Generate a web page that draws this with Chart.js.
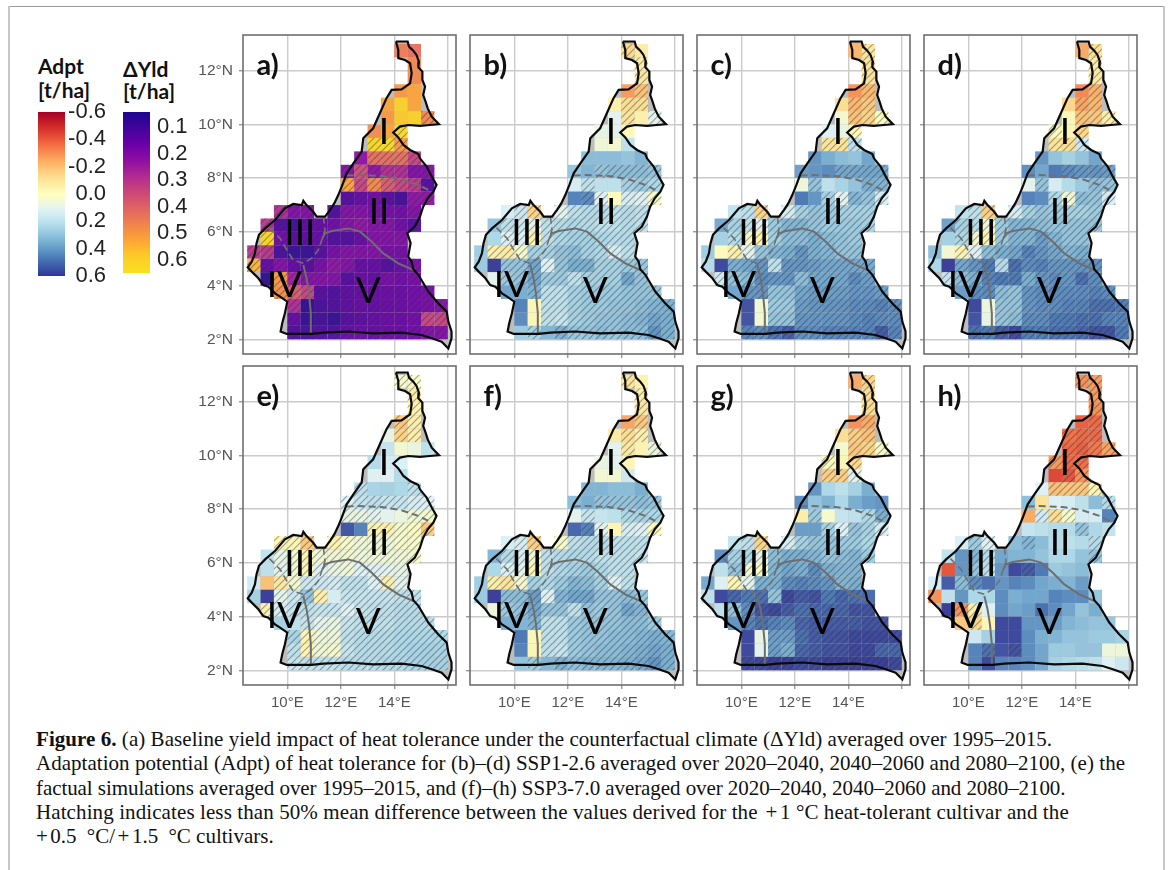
<!DOCTYPE html>
<html><head><meta charset="utf-8">
<script src="https://cdn.jsdelivr.net/npm/chart.js@4"></script>
<style>
html,body{margin:0;padding:0;background:#fff;width:1171px;height:870px;overflow:hidden}
canvas{position:absolute}
.t{position:absolute;white-space:nowrap}
.lt{font:bold 21px Lato,sans-serif;color:#111;line-height:24px}
.cap{font:21px/24px "Liberation Serif",serif;color:#111}
.p{padding:0 2.5px}
.edge{position:absolute;top:6px;bottom:0;width:2px;background:#c6c6c6}
.topedge{position:absolute;top:6px;left:8px;width:1157px;height:1px;background:#9a9a9a}
</style></head><body>
<div class="topedge"></div>
<div class="edge" style="left:8px"></div>
<div class="edge" style="left:1163px"></div>
<div class="t lt" style="left:38px;top:54px">Adpt<br>[t/ha]</div>
<div class="t lt" style="left:123px;top:58px;line-height:22px">ΔYld<br>[t/ha]</div>
<div class="t cap" style="left:36px;top:727px;letter-spacing:.05px"><b>Figure 6.</b> (a) Baseline yield impact of heat tolerance under the counterfactual climate (ΔYld) averaged over 1995–2015.</div>
<div class="t cap" style="left:36px;top:751px;letter-spacing:.03px">Adaptation potential (Adpt) of heat tolerance for (b)–(d) SSP1-2.6 averaged over 2020–2040, 2040–2060 and 2080–2100, (e) the</div>
<div class="t cap" style="left:36px;top:776px;letter-spacing:-.07px">factual simulations averaged over 1995–2015, and (f)–(h) SSP3-7.0 averaged over 2020–2040, 2040–2060 and 2080–2100.</div>
<div class="t cap" style="left:36px;top:800px;letter-spacing:.1px">Hatching indicates less than 50% mean difference between the values derived for the <span class="p">+</span>1 °C heat-tolerant cultivar and the</div>
<div class="t cap" style="left:36px;top:824px"><span class="p" style="padding-left:0">+</span>0.5<span class="p"> </span>°C/<span class="p">+</span>1.5<span class="p"> </span>°C cultivars.</div>
<script>
// ---- axes ----
const lonTicks=[10,12,14,16];
const lonLabels={10:'10°E',12:'12°E',14:'14°E'};
const latTicks=[2,4,6,8,10,12];
const adptTicks=[-0.6,-0.4,-0.2,0,0.2,0.4,0.6];
const yldTicks=[0.1,0.2,0.3,0.4,0.5,0.6];
const panelLetters=['a)','b)','c)','d)','e)','f)','g)','h)'];
// ---- grid: first column of each 0.5° row (north to south) ----
const rowStart=[11,12,12,11,10,10,9,9,8,7,7,7,2,1,1,0,0,1,2,3,3,3];
// ---- panel values, t/ha ----
const yldA=[[.45,.42],[.47],[.47],[.5,.52],[.52,.6,.52],[.5,.58,.6,.47],[.48,.52,.62],[.62,.63,.5],
[.22,.42,.42,.42,.33],[.2,.35,.22,.28,.28,.2,.2],[.52,.33,.47,.38,.33,.3,.13],[.13,.15,.17,.13,.1,.22,.22],
[.28,.2,.2,null,.12,.2,.2,.18,.18,.17,.2],[.3,.12,.1,.14,.15,.17,.2,.22,.2,.2,.17,.13],
[.62,.17,.13,.14,.15,.12,.12,.15,.2,.2,.2],[.3,.3,.11,.08,.08,.13,.18,.2,.2,.2,.18,.18],
[.55,.15,.2,.15,.13,.18,.22,.2,.15,.15,.12,.15,.18],[.07,.5,.25,.2,.2,.2,.13,.16,.15,.18,.17,.18],
[.48,.38,.33,.13,.12,.14,.15,.16,.16,.16,.17,.18],[.28,.07,.11,.12,.14,.15,.15,.16,.16,.17,.18,.2],
[.15,.07,.1,.08,.13,.14,.15,.16,.16,.17,.33,.33],[.12,.11,.12,.12,.15,.16,.15,.16,.16,.17,.2,.2]];
const adptB=[[-.13,-.08],[-.05],[-.08],[-.28,-.2],[-.05,-.12,-.12],[.1,-.1,-.05,.1],[.08,.1,-.03],[.05,.04,.2],
[.32,.32,.32,.3,.34],[.3,.34,.3,.32,.32,.32,.3],[.14,.2,.2,.2,.26,.28,.24],[.46,.44,.12,0,.14,.12,.02],
[.14,.16,-.15,null,.1,.2,.22,.22,.2,.22,.2],[.3,.2,.16,.08,.2,.22,.24,.22,.2,.2,.22,.2],
[.24,.12,.12,-.03,.2,.24,.26,.26,.24,.22,.22],[.28,-.05,-.07,.03,.26,.26,.3,.32,.26,.24,.14,.2],
[.28,.6,.3,.3,.38,.12,.3,.36,.36,.26,.26,.28,.3],[.1,.28,.3,.38,.28,.28,.2,.26,.26,.26,.38,.3],
[.38,.36,.34,.2,.2,.26,.28,.28,.28,.3,.3,.3],[.46,-.02,.2,.2,.26,.28,.28,.3,.3,.32,.34,.36],
[.44,-.02,.2,.18,.26,.28,.3,.3,.32,.34,.38,.36],[.28,.26,.34,.36,.3,.3,.32,.3,.32,.32,.42,.36]];
const adptC=[[-.22,-.1],[-.1],[-.1],[-.3,-.22],[-.12,-.22,-.18],[.04,-.2,-.15,0],[.12,.08,-.03],[-.1,-.1,.2],
[.42,.36,.32,.3,.38],[.4,.42,.44,.38,.38,.38,.38],[.06,.3,.2,.25,.3,.36,.34],[.48,.42,.26,.1,.34,.3,.14],
[.2,.2,-.15,null,.14,.26,.3,.28,.26,.26,.26],[.38,.26,.2,.1,.28,.34,.34,.3,.28,.28,.28,.26],
[.26,.22,.02,-.03,.26,.32,.32,.36,.32,.3,.28],[.28,0,-.05,.1,.3,.34,.36,.42,.36,.34,.3,.3],
[.22,.58,.36,.38,.42,.2,.42,.42,.4,.38,.38,.38,.38],[.15,.3,.32,.44,.42,.42,.32,.38,.38,.38,.44,.4],
[.38,.42,.42,.3,.3,.38,.4,.4,.4,.42,.42,.4],[.56,.04,.28,.28,.4,.42,.42,.42,.44,.44,.46,.44],
[.56,.04,.3,.3,.42,.42,.42,.42,.44,.46,.44,.44],[.46,.44,.5,.54,.44,.44,.46,.46,.46,.46,.54,.46]];
const adptD=[[-.25,-.12],[-.06],[-.07],[-.32,-.24],[-.14,-.26,-.22],[-.02,-.2,-.18,-.05],[0,-.03,-.15],[-.1,-.12,.16],
[.42,.3,.26,.3,.38],[.44,.38,.48,.44,.42,.42,.4],[.1,.3,.14,.22,.28,.32,.3],[.46,.44,.24,.05,.32,.3,.14],
[.2,.2,-.16,null,.14,.26,.3,.28,.26,.26,.28],[.4,.26,.22,.04,.28,.34,.34,.32,.3,.3,.3,.3],
[.26,.24,.04,-.03,.28,.34,.34,.4,.34,.3,.3],[.32,.04,-.04,.12,.32,.36,.38,.46,.42,.38,.34,.36],
[.24,.6,.38,.42,.48,.22,.5,.44,.46,.42,.42,.42,.44],[.18,.32,.36,.46,.48,.48,.36,.42,.44,.42,.5,.44],
[.4,.44,.44,.32,.3,.42,.44,.44,.44,.44,.46,.44],[.58,.06,.3,.3,.42,.44,.44,.46,.46,.5,.5,.48],
[.56,.08,.3,.32,.44,.44,.48,.48,.5,.5,.46,.46],[.5,.48,.54,.58,.48,.48,.5,.5,.52,.56,.56,.48]];
const adptE=[[.02,.02],[-.05],[-.04],[-.18,-.05],[.08,-.15,-.06],[.18,.04,.07,.2],[.22,.14,.14],[.12,.12,.22],
[.2,.25,.26,.24,.2],[.12,.18,.2,.18,.18,.14,.12],[.08,.08,.1,.1,.07,.05,.03],[.55,.46,-.04,-.05,.03,0,-.18],
[-.03,-.02,-.18,null,-.04,.02,.05,.05,.06,.02,.02],[.2,.08,.04,-.03,.05,.05,.04,.06,.05,.05,.05,.03],
[.2,.1,.04,-.02,.12,.08,.05,.12,.12,.1,.08],[.16,-.2,-.08,.04,.16,.16,.15,.2,.2,.12,-.05,.1],
[.26,.6,.1,.16,.3,-.05,.14,.18,.18,.18,.18,.2,.2],[-.04,.14,.18,.2,.18,.18,.12,.18,.2,.2,.22,.22],
[.26,.2,.18,.1,.08,.18,.2,.2,.2,.22,.22,.22],[.25,-.03,.06,.06,.2,.22,.22,.22,.24,.24,.24,.24],
[.2,-.03,.05,.03,.18,.22,.22,.22,.24,.25,.26,.25],[.18,.2,.2,.2,.22,.22,.22,.24,.24,.25,.26,.26]];
const adptF=[[-.1,-.06],[-.05],[-.08],[-.26,-.18],[-.07,-.12,-.05],[.1,-.08,-.04,.07],[.08,.1,-.04],[.04,.04,.16],
[.34,.34,.32,.32,.36],[.32,.36,.3,.3,.3,.32,.3],[.1,.18,.18,.2,.24,.26,.24],[.52,.46,.1,-.03,.14,.12,0],
[.14,.14,-.16,null,.02,.2,.22,.22,.2,.2,.2],[.34,.22,.14,.04,.2,.22,.24,.22,.2,.2,.2,.18],
[.24,.12,.1,-.02,.2,.24,.26,.28,.24,.2,.2],[.28,-.06,-.1,.04,.26,.24,.28,.34,.32,.26,.12,.2],
[.28,.6,.32,.32,.4,.12,.34,.38,.38,.3,.3,.32,.3],[.06,.28,.3,.38,.3,.3,.2,.3,.28,.3,.38,.34],
[.36,.34,.34,.2,.2,.28,.3,.3,.3,.32,.32,.28],[.48,-.02,.2,.2,.28,.3,.3,.32,.32,.34,.36,.34],
[.46,-.03,.2,.18,.28,.3,.32,.32,.34,.36,.38,.36],[.3,.28,.34,.36,.32,.34,.34,.34,.36,.38,.42,.36]];
const adptG=[[-.25,-.15],[-.12],[-.12],[-.3,-.25],[-.12,-.16,-.2],[.03,-.18,-.15,.02],[0,-.02,-.15],[-.16,-.16,.1],
[.42,.24,.2,.26,.36],[.44,.3,.34,.24,.36,.4,.42],[-.06,.28,.02,.18,.2,.24,.36],[.4,.4,.26,.12,.3,.26,.14],
[.2,.2,-.15,null,.14,.26,.3,.3,.28,.28,.24],[.44,.26,.24,.08,.32,.36,.36,.34,.3,.32,.34,.28],
[.2,.3,.04,.02,.34,.38,.36,.44,.36,.34,.34],[.38,.12,-.03,.1,.36,.36,.44,.46,.44,.42,.34,.36],
[.2,.58,.52,.48,.5,.3,.58,.54,.56,.48,.52,.5,.52],[.2,.3,.44,.56,.58,.54,.5,.52,.52,.52,.56,.56],
[.42,.46,.5,.46,.44,.52,.54,.54,.54,.54,.56,.56],[.58,.08,.4,.4,.5,.54,.56,.56,.58,.58,.58,.58],
[.58,.1,.4,.36,.52,.54,.56,.56,.58,.58,.52,.52],[.58,.58,.6,.6,.58,.58,.6,.6,.6,.6,.6,.58]];
const adptH=[[-.3,-.28],[-.28],[-.3],[-.4,-.38],[-.36,-.38,-.38],[-.38,-.4,-.35,-.26],[-.28,-.38,-.38],[-.45,-.42,-.3],
[.12,-.2,-.18,-.18,-.03],[.32,-.1,.12,.14,.2,.32,.22],[-.25,.15,-.12,.02,.14,.14,.46],[.18,.2,.22,.22,.3,.24,.2],
[.14,.28,.12,null,.32,.34,.32,.22,.2,.22,.22],[.2,.42,.34,.22,.38,.34,.34,.3,.24,.24,.3,.3],
[-.42,.42,.3,.2,.42,.58,.54,.48,.28,.3,.32],[.14,.54,.32,.44,.5,.42,.46,.44,.38,.36,.34,.4],
[-.3,.2,.42,.24,.24,.44,.36,.38,.38,.46,.44,.44,.3],[.6,-.3,-.05,.12,.44,.38,.4,.5,.44,.38,.3,.36],
[-.18,-.14,-.02,.58,.58,.42,.42,.4,.34,.32,.3,.3],[.16,.26,.58,.58,.44,.36,.34,.3,.3,.28,.28,.26],
[.46,.5,.56,.56,.44,.38,.28,.28,.3,.3,.06,.06],[.46,.58,.46,.46,.44,.38,.26,.24,.22,.2,.12,.16]];
// ---- hatched cells per row: 1 = hatched ----
const hatchA=['00','0','0','00','000','0001','001','111','01111','1111111','1111111','1111111','11101111111','111111111111','11111111111','111111111111','1111111111111','111111111111','111111111111','111111111111','111111111111','111111111111'];
const hatchB=['10','1','1','01','011','0101','000','000','00000','0011111','0100111','0110111','01101111111','011111111111','01111111111','011111111111','0011111111111','011111111111','001111111111','001111111111','001111111111','010111111111'];
const hatchC=['01','1','1','01','011','0111','001','111','00000','0001111','0100011','0011111','01101111111','011111111111','01111111111','001111111111','0011111111111','111111111111','011111111111','001111111111','001111111111','111111111111'];
const hatchD=['01','1','1','01','011','0111','101','111','00000','0001111','0100011','0011111','01101111111','011111111111','01111111111','001111111111','0011111111111','111111111111','011111111111','001111111111','001111111111','111111111111'];
const hatchE=['11','1','1','11','011','0000','000','000','10001','1111111','1110011','0011111','11101111111','011111111111','01111111111','001111111111','0011110111111','111111111111','001111111111','111111111111','111111111111','111111111111'];
const hatchF=['10','1','1','01','011','0101','000','000','00000','0011111','0100111','0110111','01101111111','011111111111','01111111111','011111111111','0011111111111','011111111111','001111111111','001111111111','001111111111','010111111111'];
const hatchG=['01','1','1','01','011','0111','101','111','00000','0000000','0100011','0011111','01101111111','011111111111','01111111111','001111111111','0011111111110','011111111111','011111111111','001111111111','001111111111','111111111111'];
const hatchH=['11','1','1','01','111','1111','111','011','01111','0000001','0111000','0000100','01100100001','001100000001','00110010000','001100000000','0000000000000','011000000000','010000000000','000000000000','010100000000','000000000000'];
// ---- map lines, lon/lat ----
const countryLon=[14.06,14.5,14.55,14.71,14.83,14.92,14.9,15.05,15.05,15.15,15.08,15.17,15.25,15.4,15.67,15.33,14.96,14.52,14.21,13.96,14.15,14.34,14.59,14.9,14.96,15.21,15.4,15.58,15.46,15.25,15.08,14.96,14.77,14.49,14.61,14.52,14.65,14.71,14.9,15.05,15.27,15.64,15.96,16.02,16.14,16.14,16.02,15.77,15.4,15.02,14.27,13.21,12.28,11.35,10.91,9.98,9.75,9.81,9.91,10,9.73,9.54,9.29,9.1,8.92,8.67,8.52,8.67,8.79,8.85,8.94,9.17,9.54,9.91,10.22,10.54,10.6,10.72,10.97,11.1,11.41,11.6,11.76,11.91,12.06,12.22,12.47,12.78,12.84,13.21,13.46,13.71,13.9,14.27,14.59,14.65,14.59,14.4,14.15,14.15,14.06];
const countryLat=[13.09,13.09,12.9,12.75,12.59,12.34,12.13,11.97,11.66,11.41,11.1,10.85,10.6,10.29,10.01,9.98,9.95,9.98,9.92,9.7,9.52,9.24,9.05,8.9,8.74,8.43,8.06,7.75,7.5,7.25,6.94,6.57,6.2,5.95,5.58,5.08,4.89,4.61,4.4,4.15,3.78,3.34,3.03,2.66,2.29,2.04,1.66,1.91,2.04,2.16,2.25,2.22,2.29,2.25,2.2,2.2,2.29,2.6,2.97,3.4,3.59,3.71,3.96,4.02,4.27,4.52,4.68,4.89,5.2,5.58,5.89,6.13,6.44,6.88,7.04,7,7.16,7,6.75,6.57,6.57,6.82,7.07,7.38,7.75,8.18,8.55,8.99,9.49,9.86,10.42,10.98,11.29,11.31,11.53,11.91,12.28,12.4,12.47,12.78,13.09];
const dashNorthLon=[12.22,12.65,13.53,14.27,14.9,15.4], dashNorthLat=[8.1,8.12,8.08,7.96,7.75,7.5];
const dashWestLon=[11.35,11.41,11.31,11.16,10.91,10.6,10.22,9.98,9.73,9.29], dashWestLat=[6.57,6.07,5.76,5.33,5.02,4.83,4.95,5.33,5.76,6.2];
const solidEastLon=[11.31,11.41,11.66,12.28,12.72,13.15,13.59,14.15,14.71], solidEastLat=[5.76,5.95,6.03,6.13,6.01,5.64,5.2,4.83,4.58];
const solidSouthLon=[10.6,10.72,10.81,10.88,10.88], solidSouthLat=[4.77,4.27,3.71,2.97,2.2];
const regionNames=['I','II','III','IV','V'];
const regionLon=[13.61,13.43,10.47,9.89,13.03], regionLat=[9.71,6.75,5.95,4.02,3.78];

// ---- colour maps ----
const adptStops=['#a50026','#d73027','#f46d43','#fdae61','#fee090','#ffffbf','#e0f3f8','#abd9e9','#74add1','#4575b4','#313695'];
const yldStops=['#1c0690','#41049d','#6a00a8','#8f0da4','#b12a90','#cc4778','#e16462','#f2844b','#fca636','#fcce25','#f8e020'];
const hex=h=>[1,3,5].map(i=>parseInt(h.substr(i,2),16));
function ramp(stops,t,a){
  t=Math.max(0,Math.min(1,t))*(stops.length-1);
  const i=Math.min(Math.floor(t),stops.length-2),f=t-i,p=hex(stops[i]),q=hex(stops[i+1]);
  const c=p.map((v,k)=>Math.round(v+(q[k]-v)*f));
  return `rgba(${c[0]},${c[1]},${c[2]},${a})`;
}
const adptColor=(v,a=1)=>ramp(adptStops,(v+0.6)/1.2,a);
const yldColor=(v,a=1)=>ramp(yldStops,(v-0.044)/0.605,a);

function hatchPattern(){
  const c=document.createElement('canvas');c.width=c.height=7;
  const x=c.getContext('2d');x.strokeStyle='rgba(50,50,50,.42)';x.lineWidth=1.2;
  x.beginPath();x.moveTo(-1,8);x.lineTo(8,-1);x.moveTo(-1,1);x.lineTo(1,-1);x.moveTo(6,8);x.lineTo(8,6);x.stroke();
  return x.createPattern(c,'repeat');
}
const hatchFill=hatchPattern();

const zip=(a,b)=>a.map((v,i)=>({x:v,y:b[i]}));
const panelPlugin={
  id:'panelDecor',
  afterDatasetsDraw(chart,_a,o){
    const {ctx,chartArea:ca,scales:{x,y}}=chart;
    ctx.save();
    ctx.fillStyle='#000';ctx.textBaseline='middle';ctx.textAlign='center';
    ctx.font='37px Lato,sans-serif';
    regionNames.forEach((n,i)=>ctx.fillText(n,x.getPixelForValue(regionLon[i]),y.getPixelForValue(regionLat[i])));
    ctx.textAlign='left';ctx.fillStyle='#111';ctx.font='bold 29px Lato,sans-serif';
    ctx.fillText(o.letter,x.getPixelForValue(8.85),y.getPixelForValue(12.2));
    ctx.strokeStyle='#6f6f6f';ctx.lineWidth=1.6;
    ctx.strokeRect(ca.left,ca.top,ca.right-ca.left,ca.bottom-ca.top);
    ctx.restore();
  }
};

function cellRadius(ctx){
  const s=ctx.chart.scales.x;
  return Math.abs(s.getPixelForValue(0.5)-s.getPixelForValue(0))*Math.SQRT1_2;
}
const noPad=s=>{s.paddingLeft=s.paddingRight=s.paddingTop=s.paddingBottom=0;};
function makePanel(idx,left,top,rows,hatch,colorFn,showLat,showLon){
  const cv=document.createElement('canvas');
  const W=269,H=352;cv.width=W;cv.height=H;
  cv.style.left=(left-50)+'px';cv.style.top=(top-3)+'px';
  document.body.appendChild(cv);
  const cells=[],hatched=[];
  rows.forEach((row,r)=>row.forEach((v,i)=>{
    if(v===null)return;
    const p={x:8.75+0.5*(rowStart[r]+i),y:12.75-0.5*r,v};
    cells.push(p);
    if(hatch[r][i]==='1')hatched.push(p);
  }));
  const cell={showLine:false,pointStyle:'rect',pointRadius:cellRadius,pointBorderWidth:0,pointHoverRadius:cellRadius};
  new Chart(cv,{
    type:'scatter',
    data:{datasets:[
      {data:zip(countryLon,countryLat),showLine:true,fill:'shape',backgroundColor:'#bdbdbd',borderWidth:0,pointRadius:0,order:6},
      {data:cells,...cell,pointBackgroundColor:cells.map(c=>colorFn(c.v,0.93)),order:5},
      {data:hatched,...cell,pointBackgroundColor:hatchFill,order:4},
      {data:zip(dashNorthLon,dashNorthLat),showLine:true,borderColor:'#707070',borderWidth:2,borderDash:[7,4],pointRadius:0,order:3},
      {data:zip(dashWestLon,dashWestLat),showLine:true,borderColor:'#707070',borderWidth:1.6,borderDash:[7,4],pointRadius:0,order:3},
      {data:zip(solidEastLon,solidEastLat),showLine:true,borderColor:'#6e6e6e',borderWidth:2,pointRadius:0,order:3},
      {data:zip(solidSouthLon,solidSouthLat),showLine:true,borderColor:'#6e6e6e',borderWidth:2,pointRadius:0,order:3},
      {data:zip(countryLon,countryLat),showLine:true,borderColor:'#0a0a0a',borderWidth:2.2,pointRadius:0,order:1}
    ]},
    options:{
      responsive:false,animation:false,events:[],
      layout:{padding:{left:0,top:3,right:6,bottom:0}},
      plugins:{legend:{display:false},tooltip:{enabled:false},panelDecor:{letter:panelLetters[idx]}},
      scales:{
        x:{type:'linear',min:8.344,max:16.307,
          afterBuildTicks:s=>{s.ticks=lonTicks.map(v=>({value:v}));},
          afterFit:s=>{s.height=30;noPad(s);},
          grid:{color:'#cbcbcb',lineWidth:1.4,tickLength:4,tickColor:'#9a9a9a'},border:{display:false},
          ticks:{autoSkip:false,maxRotation:0,padding:5,color:'#555',font:{family:'Liberation Sans',size:15},
            callback:v=>showLon?(lonLabels[v]||''):''}},
        y:{type:'linear',min:1.452,max:13.333,
          afterBuildTicks:s=>{s.ticks=latTicks.map(v=>({value:v}));},
          afterFit:s=>{s.width=50;noPad(s);},
          grid:{color:'#cbcbcb',lineWidth:1.4,tickLength:4,tickColor:'#9a9a9a'},border:{display:false},
          ticks:{autoSkip:false,padding:6,color:'#555',font:{family:'Liberation Sans',size:15.5},
            callback:v=>showLat?v+'°N':''}}
      }
    },
    plugins:[panelPlugin]
  });
}

function makeBar(left,top,width,height,barW,min,max,ticks,fmt,colorFn,crossAlign){
  const cv=document.createElement('canvas');cv.width=width;cv.height=height;
  cv.style.left=left+'px';cv.style.top=top+'px';
  document.body.appendChild(cv);
  new Chart(cv,{
    type:'bar',
    data:{labels:[''],datasets:[{data:[[min,max]],barPercentage:1,categoryPercentage:1,
      backgroundColor:c=>{
        const a=c.chart.chartArea;if(!a)return '#888';
        const g=c.chart.ctx.createLinearGradient(0,a.top,0,a.bottom);
        for(let i=0;i<=24;i++)g.addColorStop(i/24,colorFn(min+(max-min)*i/24));
        return g;
      }}]},
    options:{
      responsive:false,animation:false,events:[],
      layout:{padding:{top:12,bottom:12,left:0,right:0}},
      plugins:{legend:{display:false},tooltip:{enabled:false}},
      scales:{
        x:{display:false},
        y:{position:'right',reverse:true,min,max,
          afterBuildTicks:s=>{s.ticks=ticks.map(v=>({value:v}));},
          afterFit:s=>{s.width=width-barW;noPad(s);},
          grid:{display:false,drawTicks:false},border:{display:false},
          ticks:{autoSkip:false,padding:7,crossAlign,color:'#222',font:{family:'Liberation Sans',size:22},callback:fmt}}
      }
    }
  });
}
const fmt1=v=>Number(v).toFixed(1);

const lefts=[243,470,697,924],tops=[35,366];
const panels=[[yldA,hatchA,yldColor],[adptB,hatchB,adptColor],[adptC,hatchC,adptColor],[adptD,hatchD,adptColor],
              [adptE,hatchE,adptColor],[adptF,hatchF,adptColor],[adptG,hatchG,adptColor],[adptH,hatchH,adptColor]];
panels.forEach((p,i)=>makePanel(i,lefts[i%4],tops[i>3?1:0],p[0],p[1],p[2],i%4===0,i>3));
makeBar(38,100,68,188,27,-0.6,0.6,adptTicks,fmt1,adptColor,'far');
makeBar(123,100,72,185,27,0.044,0.649,yldTicks,fmt1,yldColor,'near');
</script>
</body></html>
